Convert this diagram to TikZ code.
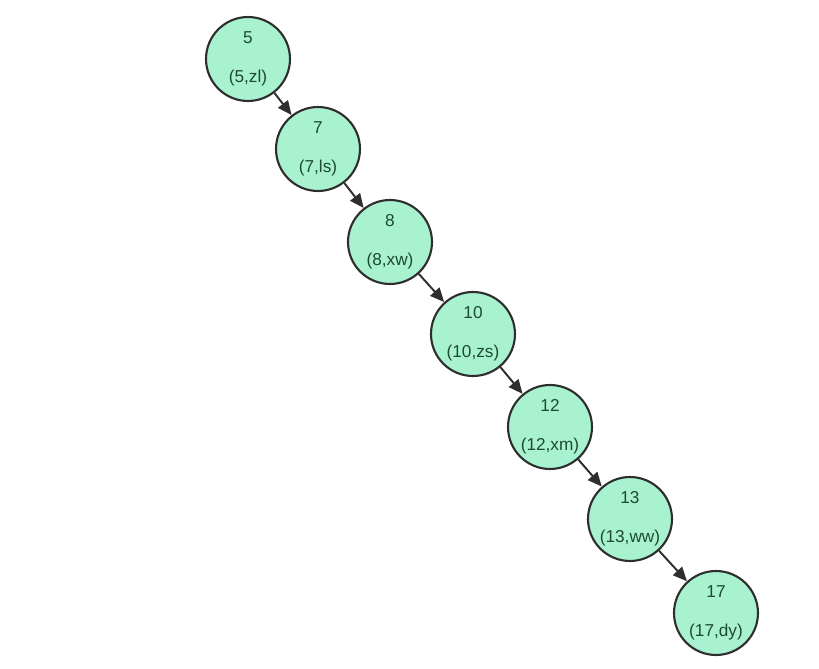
\documentclass[tikz,border=0pt]{standalone}
\usepackage{fontspec}
\setmainfont{Liberation Sans}
\usetikzlibrary{arrows.meta}
\definecolor{mint}{HTML}{A8F2CF}
\definecolor{leafgreen}{HTML}{1E4A32}
\definecolor{rim}{HTML}{2E2E2E}
\begin{document}
\begin{tikzpicture}[x=0.02cm, y=-0.02cm,
    treenode/.style={circle, draw=rim, line width=1.2pt, fill=mint, minimum size=1.68cm,
        inner sep=0pt, align=center, text=leafgreen, font=\fontsize{9.8}{11}\selectfont},
    edge/.style={draw=rim, line width=1.1pt, -{Triangle[length=8pt, width=7pt]}}]
\useasboundingbox (0,0) rectangle (819,669);

% Nodes of the degenerate tree
\node[treenode] (n5)  at (248,59)  {5\\[11pt](5,zl)};
\node[treenode] (n7)  at (318,149) {7\\[11pt](7,ls)};
\node[treenode] (n8)  at (390,242) {8\\[11pt](8,xw)};
\node[treenode] (n10) at (473,334) {10\\[11pt](10,zs)};
\node[treenode] (n12) at (550,427) {12\\[11pt](12,xm)};
\node[treenode] (n13) at (630,519) {13\\[11pt](13,ww)};
\node[treenode] (n17) at (716,613) {17\\[11pt](17,dy)};

% Right-child links
\draw[edge] (n5) -- (n7);
\draw[edge] (n7) -- (n8);
\draw[edge] (n8) -- (n10);
\draw[edge] (n10) -- (n12);
\draw[edge] (n12) -- (n13);
\draw[edge] (n13) -- (n17);
\end{tikzpicture}
\end{document}
